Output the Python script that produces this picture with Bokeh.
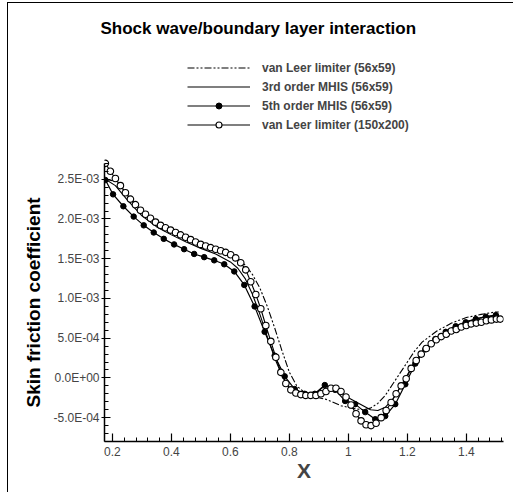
from bokeh.plotting import figure
from bokeh.models import (Legend, LegendItem, SingleIntervalTicker,
                          CustomJSTickFormatter, Range1d, Title)
from bokeh.embed import file_html
from bokeh.resources import INLINE

title_text = "Shock wave/boundary layer interaction"
x_label = "X"
y_label = "Skin friction coefficient"
names = ["van Leer limiter (56x59)", "3rd order MHIS (56x59)",
         "5th order MHIS (56x59)", "van Leer limiter (150x200)"]

# van Leer limiter (56x59) - dash dot dot line
vl56_x = [0.176, 0.216, 0.25, 0.28, 0.31, 0.35, 0.40, 0.45, 0.50, 0.55, 0.60, 0.625,
          0.65, 0.675, 0.70, 0.725, 0.75, 0.775, 0.80, 0.825, 0.85, 0.875, 0.90,
          0.925, 0.95, 0.975, 1.00, 1.025, 1.05, 1.075, 1.10, 1.125, 1.15, 1.175,
          1.20, 1.225, 1.25, 1.30, 1.35, 1.40, 1.45, 1.50, 1.51]
vl56_y = [2.50, 2.47, 2.31, 2.17, 2.06, 1.95, 1.86, 1.77, 1.69, 1.62, 1.55, 1.50,
          1.42, 1.30, 1.13, 0.90, 0.63, 0.34, 0.07, -0.10, -0.18, -0.22, -0.25,
          -0.27, -0.31, -0.35, -0.37, -0.39, -0.40, -0.38, -0.32, -0.22, -0.08, 0.06,
          0.20, 0.34, 0.45, 0.59, 0.69, 0.76, 0.80, 0.83, 0.83]

# 3rd order MHIS (56x59) - solid line
m3_x = [0.176, 0.21, 0.25, 0.30, 0.35, 0.40, 0.45, 0.50, 0.55, 0.60, 0.625, 0.65,
        0.675, 0.70, 0.725, 0.75, 0.775, 0.80, 0.825, 0.85, 0.875, 0.90, 0.92,
        0.95, 0.975, 1.00, 1.025, 1.05, 1.075, 1.10, 1.125, 1.15, 1.175, 1.20,
        1.225, 1.25, 1.30, 1.35, 1.40, 1.45, 1.50, 1.51]
m3_y = [2.50, 2.42, 2.24, 2.04, 1.90, 1.80, 1.71, 1.63, 1.56, 1.46, 1.38, 1.25,
        1.05, 0.80, 0.52, 0.25, 0.03, -0.12, -0.19, -0.22, -0.21, -0.16, -0.10,
        -0.14, -0.20, -0.25, -0.30, -0.35, -0.40, -0.41, -0.37, -0.27, -0.12, 0.04,
        0.20, 0.33, 0.51, 0.63, 0.71, 0.76, 0.79, 0.79]

# 5th order MHIS (56x59) - line with filled circles
m5_x = [0.176, 0.202, 0.237, 0.272, 0.306, 0.340, 0.374, 0.409, 0.443, 0.477,
        0.511, 0.545, 0.579, 0.613, 0.647, 0.682, 0.716, 0.750, 0.784, 0.818,
        0.852, 0.886, 0.920, 0.955, 0.989, 1.023, 1.057, 1.091, 1.125, 1.159,
        1.193, 1.227, 1.261, 1.295, 1.330, 1.364, 1.398, 1.432, 1.466, 1.500]
m5_y = [2.49, 2.31, 2.16, 2.03, 1.92, 1.83, 1.75, 1.68, 1.62, 1.56,
        1.52, 1.48, 1.43, 1.34, 1.17, 0.90, 0.58, 0.28, 0.02, -0.14,
        -0.20, -0.20, -0.09, -0.15, -0.29, -0.33, -0.43, -0.52, -0.48, -0.33,
        -0.08, 0.18, 0.36, 0.49, 0.58, 0.65, 0.70, 0.74, 0.77, 0.79]

# van Leer limiter (150x200) - line with open circles
vl150_x = [0.176, 0.193, 0.210, 0.227, 0.244, 0.261, 0.278, 0.295, 0.312, 0.329,
           0.346, 0.363, 0.380, 0.397, 0.414, 0.431, 0.448, 0.465, 0.482, 0.499,
           0.516, 0.533, 0.550, 0.567, 0.584, 0.601, 0.618, 0.635, 0.652, 0.669,
           0.686, 0.703, 0.720, 0.737, 0.754, 0.771, 0.788, 0.805, 0.822, 0.839,
           0.856, 0.873, 0.890, 0.907, 0.924, 0.941, 0.958, 0.975, 0.992, 1.009,
           1.026, 1.043, 1.060, 1.077, 1.094, 1.111, 1.128, 1.145, 1.162, 1.179,
           1.196, 1.213, 1.230, 1.247, 1.264, 1.281, 1.298, 1.315, 1.332, 1.349,
           1.366, 1.383, 1.400, 1.417, 1.434, 1.451, 1.468, 1.485, 1.502, 1.515]
vl150_y = [2.70, 2.60, 2.51, 2.42, 2.33, 2.25, 2.18, 2.11, 2.06, 2.01,
           1.96, 1.92, 1.89, 1.86, 1.83, 1.80, 1.77, 1.74, 1.71, 1.68,
           1.66, 1.64, 1.62, 1.60, 1.58, 1.55, 1.51, 1.45, 1.36, 1.21,
           1.05, 0.87, 0.66, 0.46, 0.26, 0.07, -0.07, -0.15, -0.19, -0.21,
           -0.22, -0.22, -0.22, -0.20, -0.17, -0.13, -0.13, -0.17, -0.24, -0.34,
           -0.45, -0.54, -0.59, -0.60, -0.57, -0.50, -0.41, -0.31, -0.20, -0.10,
           -0.01, 0.12, 0.22, 0.30, 0.37, 0.43, 0.48, 0.52, 0.55, 0.59,
           0.61, 0.64, 0.66, 0.68, 0.69, 0.70, 0.72, 0.73, 0.74, 0.74]

scale = 1e-3  # values above are in units of 1E-03

x_tick_step = 0.2
y_tick_step = 5e-4
x_lo, x_hi = 0.173, 1.526
y_lo, y_axis_top, y_hi = -8.0e-4, 2.7e-3, 4.12e-3

FONT = "Liberation Sans"

p = figure(width=506, height=490, output_backend="svg", toolbar_location=None,
           x_range=Range1d(x_lo, x_hi), y_range=Range1d(y_lo, y_hi),
           min_border_left=96, min_border_right=11, min_border_top=47,
           min_border_bottom=52)
p.outline_line_color = None
p.xgrid.visible = False
p.ygrid.visible = False
p.background_fill_color = "white"
p.border_fill_color = "white"

p.title.text = title_text
p.title.align = "left"
p.title.offset = -4
p.title.text_font = FONT
p.title.text_font_size = "17px"
p.title.text_font_style = "bold"
p.title.text_color = "black"
p.title.standoff = 26

def scaled(v):
    return [a * scale for a in v]

r1 = p.line(vl56_x, scaled(vl56_y), line_color="black", line_width=1.1,
            line_dash="7 2 2 2 2 2")
r2 = p.line(m3_x, scaled(m3_y), line_color="black", line_width=1.1)
r3l = p.line(m5_x, scaled(m5_y), line_color="black", line_width=1.2)
r3m = p.scatter(m5_x, scaled(m5_y), marker="circle", size=5.5,
                fill_color="black", line_color="black")
r4l = p.line(vl150_x, scaled(vl150_y), line_color="black", line_width=1.1)
r4m = p.scatter(vl150_x, scaled(vl150_y), marker="circle", size=6.5,
                fill_color="white", line_color="black", line_width=1.1)

# axes
xa = p.xaxis[0]
xa.ticker = SingleIntervalTicker(interval=x_tick_step, num_minor_ticks=5)
xa.formatter = CustomJSTickFormatter(code="return String(parseFloat(tick.toFixed(2)));")
xa.axis_label = x_label
xa.axis_label_text_font = FONT
xa.axis_label_text_font_size = "21px"
xa.axis_label_text_font_style = "bold"
xa.axis_label_standoff = 0
xa.major_label_text_font = FONT
xa.major_label_text_font_size = "12px"
xa.major_label_standoff = 5
xa.major_tick_in = 8
xa.major_tick_out = 0
xa.minor_tick_in = 4
xa.minor_tick_out = 0
xa.axis_line_width = 1.5
xa.major_tick_line_width = 1.2

ya = p.yaxis[0]
ya.bounds = (y_lo, y_axis_top)
ya.ticker = SingleIntervalTicker(interval=y_tick_step, num_minor_ticks=5)
ya.formatter = CustomJSTickFormatter(code="""
if (Math.abs(tick) < 1e-12) { return "0.0E+00"; }
const s = tick.toExponential(1).toUpperCase();
const parts = s.split("E");
const e = parseInt(parts[1]);
const a = Math.abs(e);
return parts[0] + "E" + (e < 0 ? "-" : "+") + (a < 10 ? "0" : "") + a;
""")
ya.major_label_text_font = FONT
ya.major_label_text_font_size = "12px"
ya.major_label_standoff = 2
ya.major_tick_in = 6
ya.major_tick_out = 3
ya.minor_tick_in = 4
ya.minor_tick_out = 0
ya.axis_line_width = 1.5
ya.major_tick_line_width = 1.2

# y-axis title, placed in the left panel next to the drawn (bounded) axis
ytitle = Title(text=y_label, align="left", offset=34, text_font=FONT,
               text_font_size="19px", text_font_style="bold",
               text_color="black", standoff=13)
p.add_layout(ytitle, "left")

legend = Legend(items=[
    LegendItem(label=names[0], renderers=[r1]),
    LegendItem(label=names[1], renderers=[r2]),
    LegendItem(label=names[2], renderers=[r3l, r3m]),
    LegendItem(label=names[3], renderers=[r4l, r4m]),
], location=(83, 309))
legend.border_line_color = None
legend.background_fill_alpha = 0
legend.padding = 0
legend.margin = 0
legend.spacing = 4
legend.glyph_width = 63
legend.glyph_height = 15
legend.label_height = 15
legend.label_standoff = 12
legend.label_text_font = FONT
legend.label_text_font_size = "12px"
legend.label_text_font_style = "bold"
p.add_layout(legend)

p.styles = {"border-left": "1px solid black", "border-top": "1px solid black",
            "margin-left": "7px", "margin-top": "2px"}

open("out.html", "w").write(file_html(p, INLINE))
